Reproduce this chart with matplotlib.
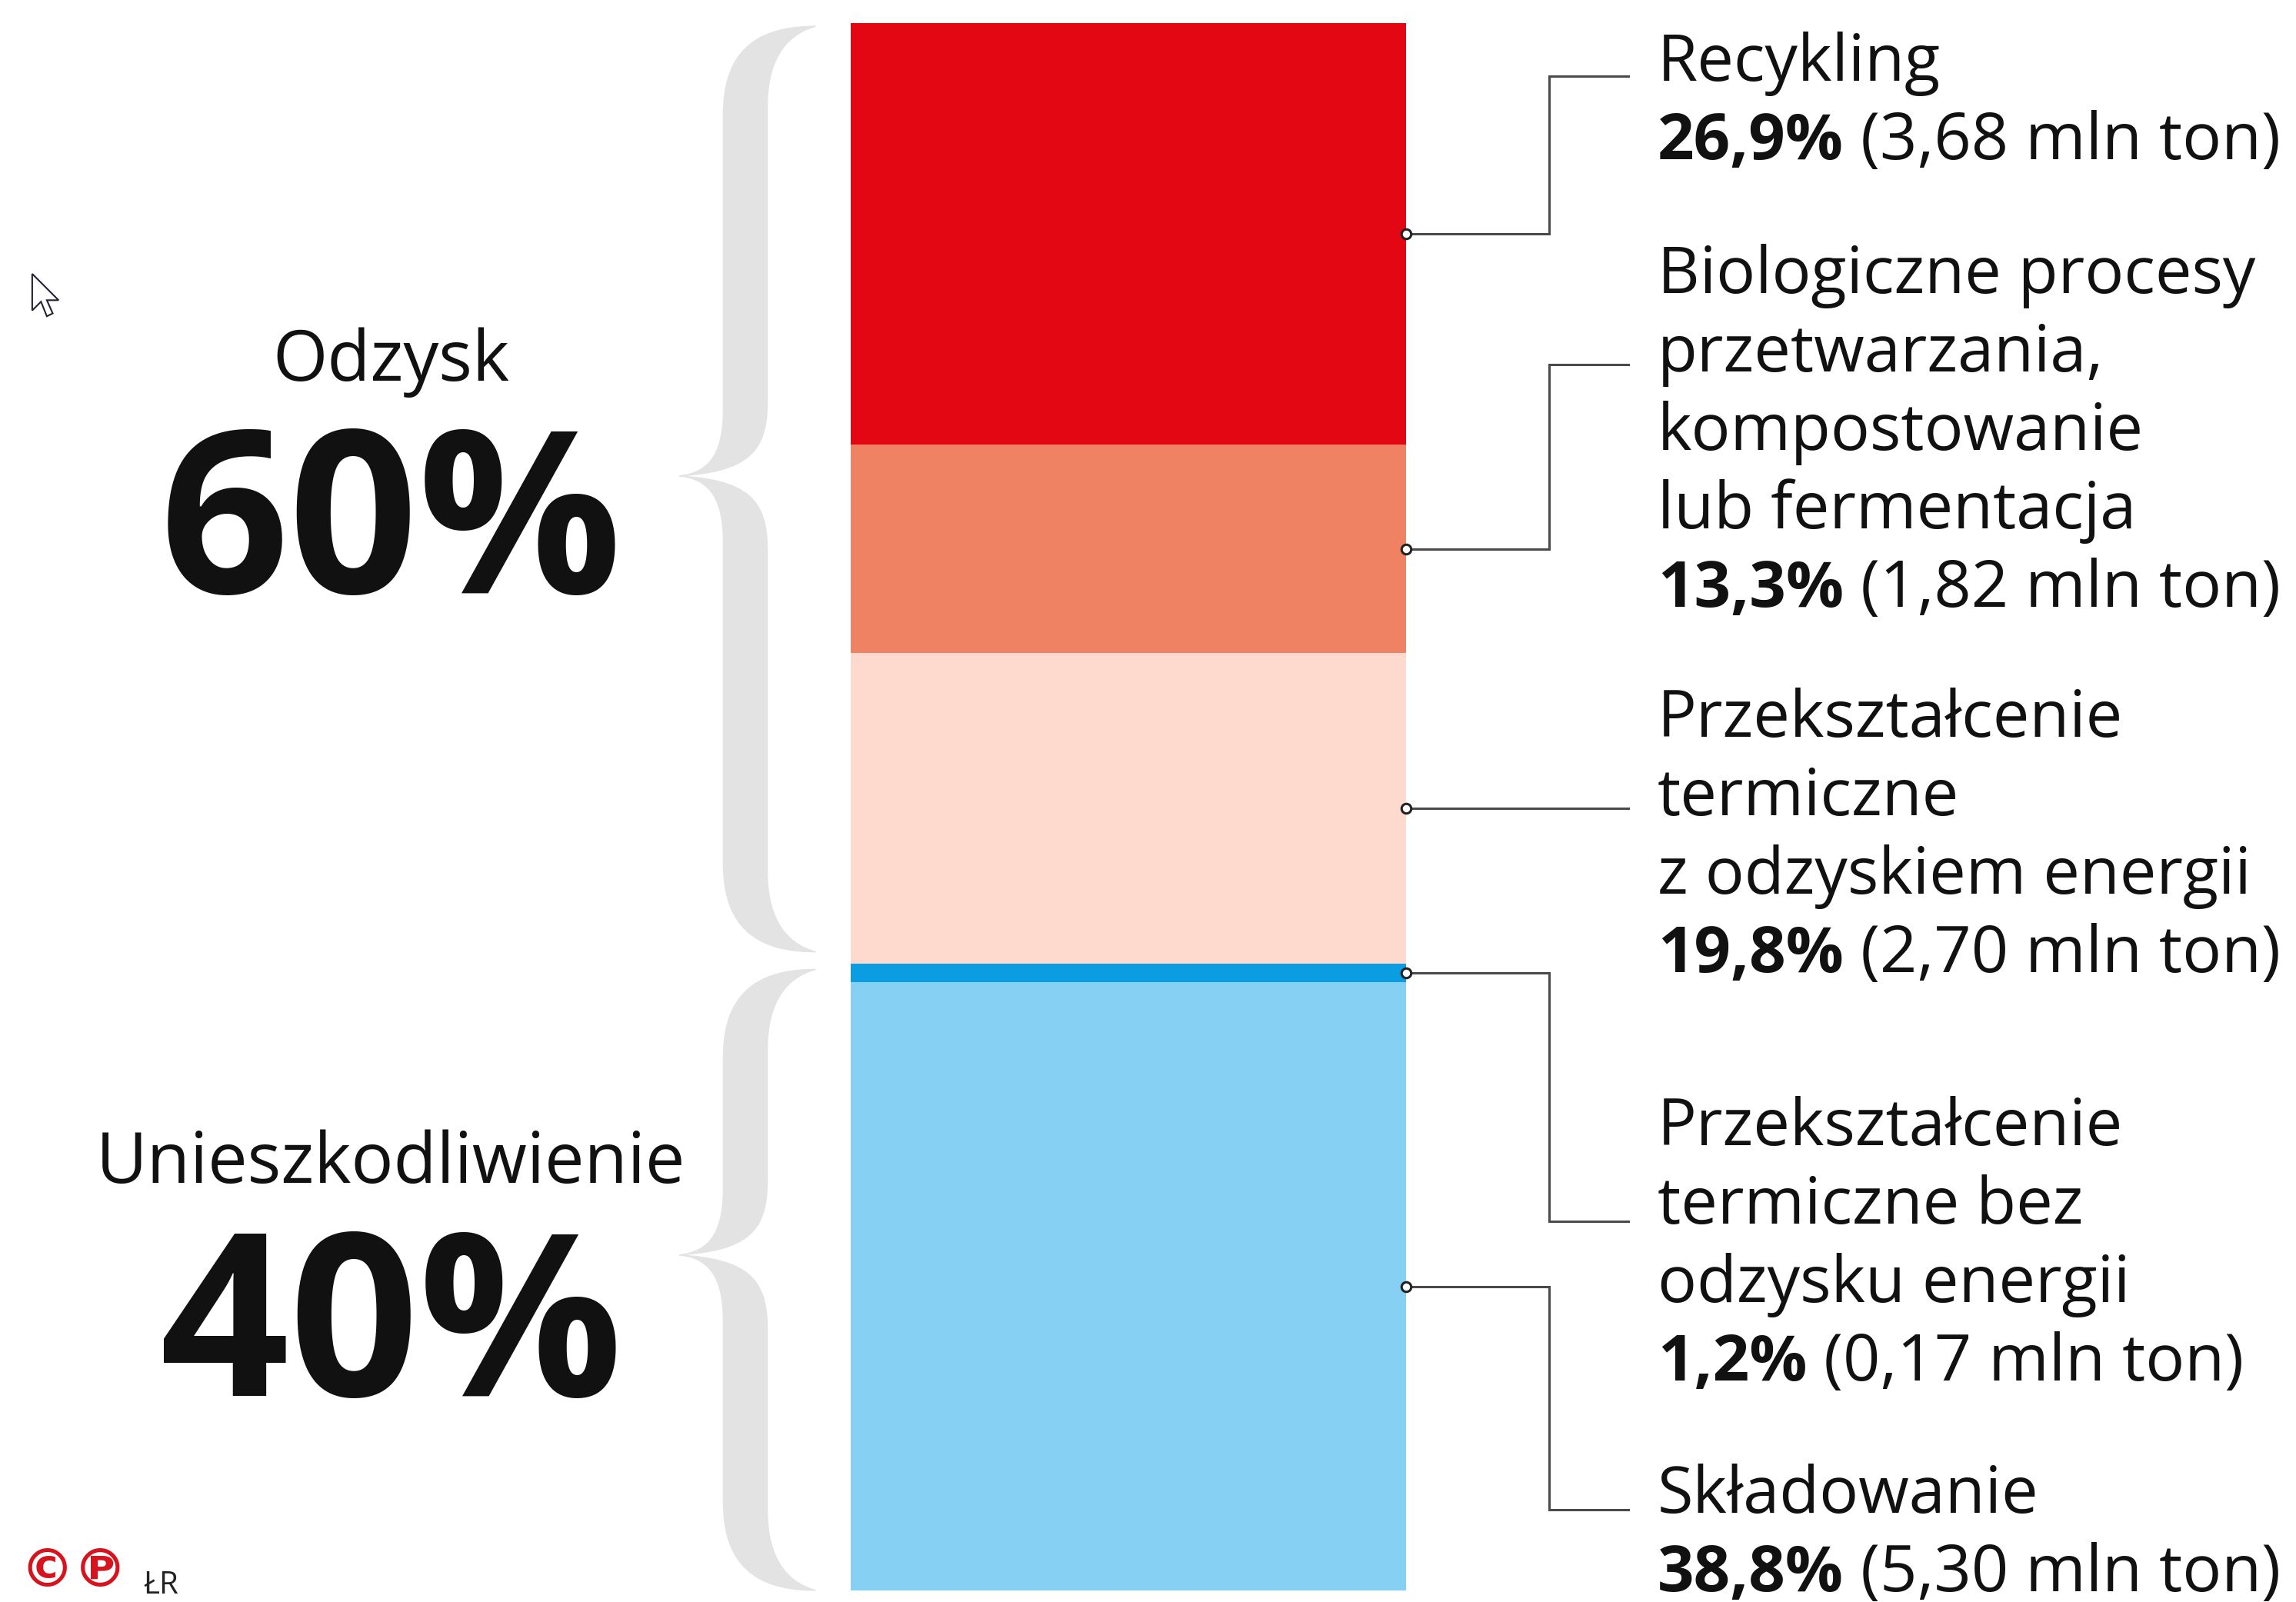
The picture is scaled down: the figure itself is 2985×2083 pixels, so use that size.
import numpy as np
import matplotlib
matplotlib.use("Agg")
import matplotlib.pyplot as plt
from matplotlib.path import Path
from matplotlib.patches import PathPatch, Polygon

# dane
procent = [26.9, 13.3, 19.8, 1.2, 38.8]
mln_ton = ["3,68", "1,82", "2,70", "0,17", "5,30"]
etykiety = [
    ["Recykling"],
    ["Biologiczne procesy", "przetwarzania,", "kompostowanie", "lub fermentacja"],
    ["Przekształcenie", "termiczne", "z odzyskiem energii"],
    ["Przekształcenie", "termiczne bez", "odzysku energii"],
    ["Składowanie"],
]
kolory = ["#e30613", "#f08264", "#fddacd", "#0a9de2", "#86d0f4"]
grupy = ["Odzysk", "Unieszkodliwienie"]
grupy_proc = [60, 40]

FONT = ["Open Sans", "DejaVu Sans"]
SZARY = "#e3e3e3"


def Y(px):
    # pozycja pionowa (piksele obrazu 1568x1094) -> skala procentowa słupka
    return (px - 16) / 10.7


fig = plt.figure(figsize=(29.85, 20.83), dpi=100)
ax = fig.add_axes([0, 0, 1, 1])
ax.set_xlim(0, 1568)
ax.set_ylim(Y(1094), Y(0))
ax.axis("off")

# słupek
dol = np.concatenate([[0], np.cumsum(procent)[:-1]])
ax.bar([770.5] * len(procent), procent, bottom=dol, width=379,
       color=kolory, linewidth=0, zorder=2)


# klamry
def klamra(y0, y1, ym, x_end=557, x_tip=464, xc=509, w=15):
    v = [(x_end, y0),
         (525, y0), (xc - w, y0 + 10), (xc - w, y0 + 60),
         (xc - w, ym - 45),
         (xc - w, ym - 12), (x_tip + 18, ym - 2), (x_tip, ym),
         (x_tip + 18, ym + 2), (xc - w, ym + 12), (xc - w, ym + 45),
         (xc - w, y1 - 60),
         (xc - w, y1 - 10), (525, y1), (x_end, y1),
         (535, y1 - 6), (xc + w, y1 - 25), (xc + w, y1 - 55),
         (xc + w, ym + 50),
         (xc + w, ym + 15), (xc, ym + 3), (x_tip, ym),
         (xc, ym - 3), (xc + w, ym - 15), (xc + w, ym - 50),
         (xc + w, y0 + 55),
         (xc + w, y0 + 25), (535, y0 + 6), (x_end, y0),
         (x_end, y0)]
    c = [Path.MOVETO,
         Path.CURVE4, Path.CURVE4, Path.CURVE4,
         Path.LINETO,
         Path.CURVE4, Path.CURVE4, Path.CURVE4,
         Path.CURVE4, Path.CURVE4, Path.CURVE4,
         Path.LINETO,
         Path.CURVE4, Path.CURVE4, Path.CURVE4,
         Path.CURVE4, Path.CURVE4, Path.CURVE4,
         Path.LINETO,
         Path.CURVE4, Path.CURVE4, Path.CURVE4,
         Path.CURVE4, Path.CURVE4, Path.CURVE4,
         Path.LINETO,
         Path.CURVE4, Path.CURVE4, Path.CURVE4,
         Path.CLOSEPOLY]
    v = [(x, Y(y)) for x, y in v]
    ax.add_patch(PathPatch(Path(v, c), facecolor=SZARY, edgecolor=SZARY,
                           lw=1, zorder=1))


klamra(18, 650, 325)
klamra(662, 1086, 857)

# opisy grup po lewej
for nazwa, p, yb in zip(grupy, grupy_proc, [260, 808]):
    ax.text(267, Y(yb), nazwa, ha="center", va="baseline", fontsize=66,
            family=FONT, color="#111111")
    ax.text(267, Y(yb + 145), f"{p}%", ha="center", va="baseline",
            fontsize=212, fontweight="bold", family=FONT, color="#111111")

# łączniki i etykiety
konce = [52, 249, None, 834, 1031]
linie_start = [55, 200, 503, 782, 1033]
KROK = 53.6
for i, p in enumerate(procent):
    sr = dol[i] + p / 2
    if konce[i] is None:
        xs, ys = [960, 1112], [sr, sr]
    else:
        xs = [960, 1058, 1058, 1112]
        ys = [sr, sr, Y(konce[i]), Y(konce[i])]
    ax.plot(xs, ys, color="#4a4a4a", lw=2.2, solid_joinstyle="miter", zorder=3)
    ax.plot(960, sr, marker="o", ms=9, mfc="white", mec="#222222", mew=2.2,
            zorder=4)

    y = linie_start[i]
    for linia in etykiety[i]:
        ax.text(1132, Y(y), linia, ha="left", va="baseline", fontsize=61,
                family=FONT, color="#111111")
        y += KROK
    pt = ax.text(1132, Y(y), f"{p:.1f}%".replace(".", ","), ha="left",
                 va="baseline", fontsize=60, fontweight="bold", family=FONT,
                 color="#111111")
    ax.annotate(f" ({mln_ton[i]} mln ton)", xy=(1, Y(y)),
                xycoords=(pt, "data"), ha="left", va="baseline", fontsize=61,
                family=FONT, color="#111111")

# stopka
ax.text(14, Y(1073), "©℗", ha="left", va="center", fontsize=50,
        fontweight="bold", family=["DejaVu Sans"], color="#d7141e")
ax.text(98, Y(1088), "ŁR", ha="left", va="baseline", fontsize=29,
        family=FONT, color="#222222")

# kursor
kursor = [(22, 187), (22, 212), (28, 206), (32, 216), (36, 214), (32, 205),
          (40, 205)]
ax.add_patch(Polygon([(x, Y(y)) for x, y in kursor], closed=True,
                     facecolor="white", edgecolor="#222233", lw=1.5, zorder=5))

fig.savefig("out.png", dpi=100)
